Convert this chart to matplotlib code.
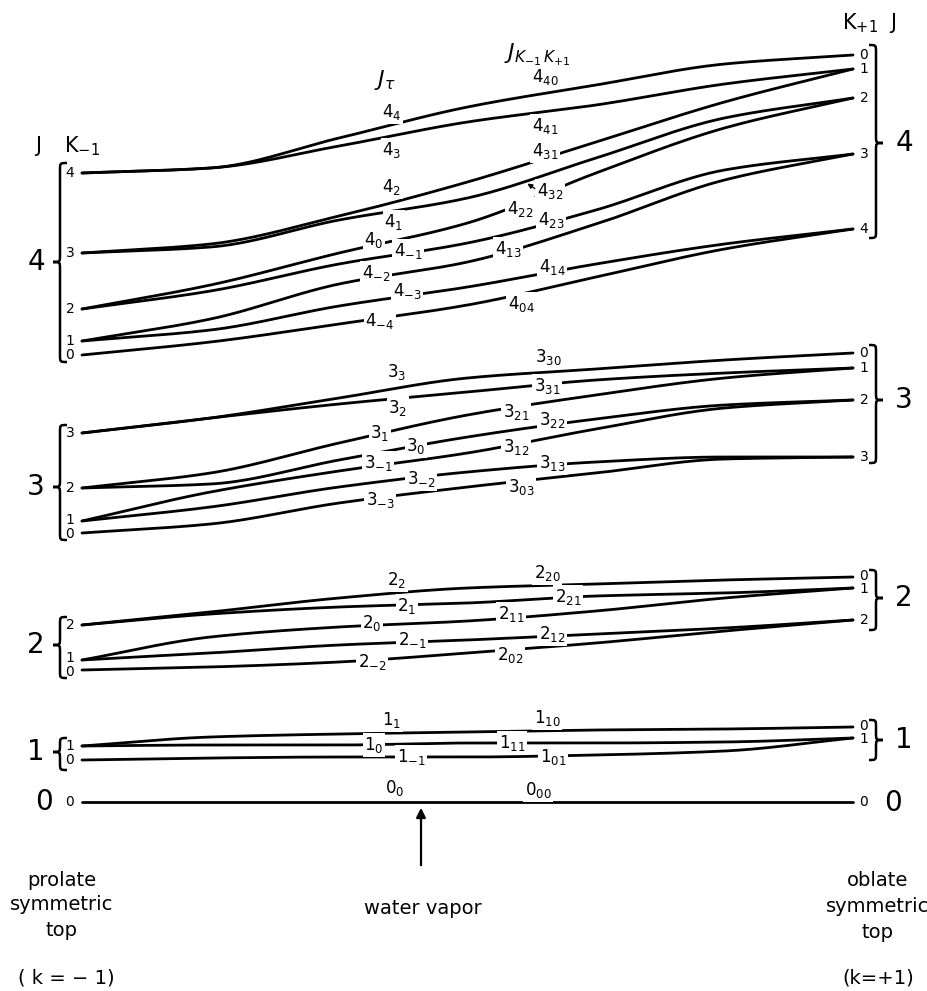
import numpy as np
import matplotlib.pyplot as plt
from matplotlib.path import Path
from matplotlib.patches import PathPatch

plt.rcParams['font.family'] = ['DejaVu Sans']
plt.rcParams['mathtext.fontset'] = 'dejavusans'

# asymmetry parameter kappa at which the level heights were taken
kappa = [-1, -2 / 3, -1 / 3, 0, 1 / 3, 2 / 3, 1]

# level heights (arbitrary units, counted downward from the top of the sheet)
j4_states = ['4_{40}', '4_{41}', '4_{31}', '4_{32}', '4_{22}', '4_{23}', '4_{13}', '4_{14}', '4_{04}']
j4_heights = [
    [173, 168, 138, 107, 85, 64, 55],
    [173, 168, 146, 122, 105, 84, 69],
    [253, 244, 216, 182, 142, 102, 69],
    [253, 247, 220, 198, 158, 118, 98],
    [309, 285, 253, 223, 173, 128, 98],
    [309, 291, 264, 243, 210, 170, 154],
    [341, 319, 284, 262, 224, 180, 154],
    [341, 330, 306, 287, 264, 244, 229],
    [355, 342, 324, 305, 277, 249, 229],
]

j3_states = ['3_{30}', '3_{31}', '3_{21}', '3_{22}', '3_{12}', '3_{13}', '3_{03}']
j3_heights = [
    [433, 418, 398, 378, 369, 360, 353],
    [433, 418, 404, 392, 380, 373, 368],
    [488, 473, 443, 415, 395, 378, 368],
    [488, 484, 460, 437, 419, 405, 400],
    [521, 492, 471, 453, 429, 408, 400],
    [521, 507, 487, 472, 462, 457, 457],
    [533, 524, 503, 487, 473, 459, 457],
]

j2_states = ['2_{20}', '2_{21}', '2_{11}', '2_{12}', '2_{02}']
j2_heights = [
    [625, 612, 598, 588, 584, 580, 577],
    [625, 614, 607, 603, 596, 593, 588],
    [660, 637, 627, 621, 611, 598, 588],
    [660, 653, 645, 640, 634, 628, 620],
    [670, 667, 662, 653, 643, 631, 620],
]

j1_states = ['1_{10}', '1_{11}', '1_{01}']
j1_heights = [
    [746, 737, 734, 732, 730, 729, 727],
    [746, 745, 745, 743, 743, 742, 738],
    [760, 758, 757, 757, 755, 751, 738],
]

j0_states = ['0_{00}']
j0_heights = [
    [802, 802, 802, 802, 802, 802, 802],
]

tau_names = ['4_{4}', '4_{3}', '4_{2}', '4_{1}', '4_{0}', '4_{-1}', '4_{-2}', '4_{-3}', '4_{-4}',
             '3_{3}', '3_{2}', '3_{1}', '3_{0}', '3_{-1}', '3_{-2}', '3_{-3}',
             '2_{2}', '2_{1}', '2_{0}', '2_{-1}', '2_{-2}',
             '1_{1}', '1_{0}', '1_{-1}', '0_{0}']

# where the J_tau and J_{K-1 K+1} labels sit on the sheet
tau_pos = [(392, 112), (392, 150), (392, 187), (394, 222), (374, 240), (408, 251),
           (376, 273), (407, 291), (380, 321),
           (397, 372), (398, 408), (380, 433), (416, 446), (378, 463), (421, 479), (380, 500),
           (397, 580), (407, 606), (372, 623), (412, 640), (372, 662),
           (392, 720), (374, 745), (411, 757), (395, 788)]
kk_pos = [(545, 77), (545, 126), (545, 151), (550, 191), (520, 209), (551, 220),
          (508, 249), (552, 267), (521, 304),
          (548, 357), (547, 386), (516, 412), (552, 420), (516, 447), (552, 463), (521, 487),
          (547, 573), (568, 597), (511, 614), (552, 634), (510, 655),
          (547, 718), (512, 743), (553, 757), (538, 790)]

X_LEFT, X_RIGHT = 82, 853


def kx(k):
    return X_LEFT + (np.asarray(k, float) + 1) * (X_RIGHT - X_LEFT) / 2


def smooth(xk, yk, xs):
    # monotone cubic through the read points
    xk = np.asarray(xk, float)
    yk = np.asarray(yk, float)
    h = np.diff(xk)
    d = np.diff(yk) / h
    m = np.zeros_like(yk)
    m[0], m[-1] = d[0], d[-1]
    for i in range(1, len(xk) - 1):
        if d[i - 1] * d[i] > 0:
            w1 = 2 * h[i] + h[i - 1]
            w2 = h[i] + 2 * h[i - 1]
            m[i] = (w1 + w2) / (w1 / d[i - 1] + w2 / d[i])
    idx = np.clip(np.searchsorted(xk, xs) - 1, 0, len(h) - 1)
    t = (xs - xk[idx]) / h[idx]
    return ((2 * t**3 - 3 * t**2 + 1) * yk[idx] + (t**3 - 2 * t**2 + t) * h[idx] * m[idx]
            + (-2 * t**3 + 3 * t**2) * yk[idx + 1] + (t**3 - t**2) * h[idx] * m[idx + 1])


def spread(levels, gap=13):
    # push apart level numbers that would sit on top of each other
    keys = sorted(levels, key=levels.get)
    pos = {k: float(levels[k]) for k in keys}
    for a, b in zip(keys, keys[1:]):
        d = pos[b] - pos[a]
        if d < gap:
            pos[a] -= (gap - d) / 2
            pos[b] += (gap - d) / 2
    return pos


def brace(ax, x, y_top, y_bot, y_tip, side, w=7):
    s = side
    verts = [(x - s * w, y_top), (x, y_top), (x, y_top), (x, y_top + w),
             (x, y_tip - w), (x, y_tip), (x, y_tip), (x + s * w, y_tip),
             (x, y_tip), (x, y_tip), (x, y_tip + w),
             (x, y_bot - w), (x, y_bot), (x, y_bot), (x - s * w, y_bot)]
    codes = [Path.MOVETO] + [Path.CURVE4] * 3 + [Path.LINETO] + [Path.CURVE4] * 6 + \
            [Path.LINETO] + [Path.CURVE4] * 3
    ax.add_patch(PathPatch(Path(verts, codes), fill=False, lw=1.8, ec='k'))


fig = plt.figure(figsize=(9.28, 9.91), dpi=100)
ax = fig.add_axes([0, 0, 1, 1])
ax.set_xlim(0, 928)
ax.set_ylim(991, 0)
ax.axis('off')

xs = np.linspace(-1, 1, 300)
groups = [(j4_states, j4_heights), (j3_states, j3_heights), (j2_states, j2_heights),
          (j1_states, j1_heights), (j0_states, j0_heights)]

label_box = dict(boxstyle='square,pad=0.1', fc='white', ec='none')
for states, heights in groups:
    left_ends, right_ends = {}, {}
    for name, ys in zip(states, heights):
        ax.plot(kx(xs), smooth(kappa, ys, xs), color='k', lw=2.0, solid_capstyle='round', zorder=2)
        left_ends[name[3]] = ys[0]
        right_ends[name[4]] = ys[-1]
    for k, y in spread(left_ends).items():
        ax.text(70, y, k, fontsize=10, ha='center', va='center', zorder=4)
    for k, y in spread(right_ends).items():
        ax.text(864, y, k, fontsize=10, ha='center', va='center', zorder=4)

all_states = j4_states + j3_states + j2_states + j1_states + j0_states
for name, (x, y) in zip(tau_names, tau_pos):
    ax.text(x, y, f'${name}$', fontsize=12, ha='center', va='center', bbox=label_box, zorder=3)
for name, (x, y) in zip(all_states, kk_pos):
    ax.text(x, y, f'${name}$', fontsize=12, ha='center', va='center', bbox=label_box, zorder=3)

# small pointer from the 4_32 label to its line
ax.annotate('', xy=(525, 182), xytext=(537, 190),
            arrowprops=dict(arrowstyle='-|>', color='k', lw=1.0, mutation_scale=7))

# column headings
ax.text(385, 80, r'$J_{\tau}$', fontsize=16, ha='center', va='center')
ax.text(537, 55, r'$J_{K_{-1}\,K_{+1}}$', fontsize=16, ha='center', va='center')
ax.text(38, 146, 'J', fontsize=15, ha='center', va='center')
ax.text(82, 146, r'$\mathregular{K}_{-1}$', fontsize=15, ha='center', va='center')
ax.text(860, 23, r'$\mathregular{K}_{+1}$', fontsize=15, ha='center', va='center')
ax.text(893, 23, 'J', fontsize=15, ha='center', va='center')

# J groupings on both sides
left_braces = [('4', 163, 362, 262), ('3', 425, 540, 487), ('2', 617, 678, 645), ('1', 738, 770, 752)]
right_braces = [('4', 45, 238, 143), ('3', 345, 463, 400), ('2', 570, 630, 598), ('1', 720, 760, 740)]
for j, y0, y1, yt in left_braces:
    brace(ax, 60, y0, y1, yt, -1)
    ax.text(36, yt, j, fontsize=20, ha='center', va='center')
for j, y0, y1, yt in right_braces:
    brace(ax, 876, y0, y1, yt, 1)
    ax.text(904, yt, j, fontsize=20, ha='center', va='center')
ax.text(44, 802, '0', fontsize=20, ha='center', va='center')
ax.text(893, 803, '0', fontsize=20, ha='center', va='center')

# water vapour marker
ax.annotate('', xy=(421, 805), xytext=(421, 868),
            arrowprops=dict(arrowstyle='-|>', color='k', lw=1.6, mutation_scale=14))

for text, y in [('prolate', 880), ('symmetric', 905), ('top', 930)]:
    ax.text(62, y, text, fontsize=14, ha='center', va='center')
for text, y in [('oblate', 880), ('symmetric', 906), ('top', 932)]:
    ax.text(878, y, text, fontsize=14, ha='center', va='center')
ax.text(423, 908, 'water vapor', fontsize=14, ha='center', va='center')
ax.text(66, 978, '( k = − 1)', fontsize=14, ha='center', va='center')
ax.text(878, 978, '(k=+1)', fontsize=14, ha='center', va='center')

fig.savefig('out.png', dpi=100, facecolor='white')
